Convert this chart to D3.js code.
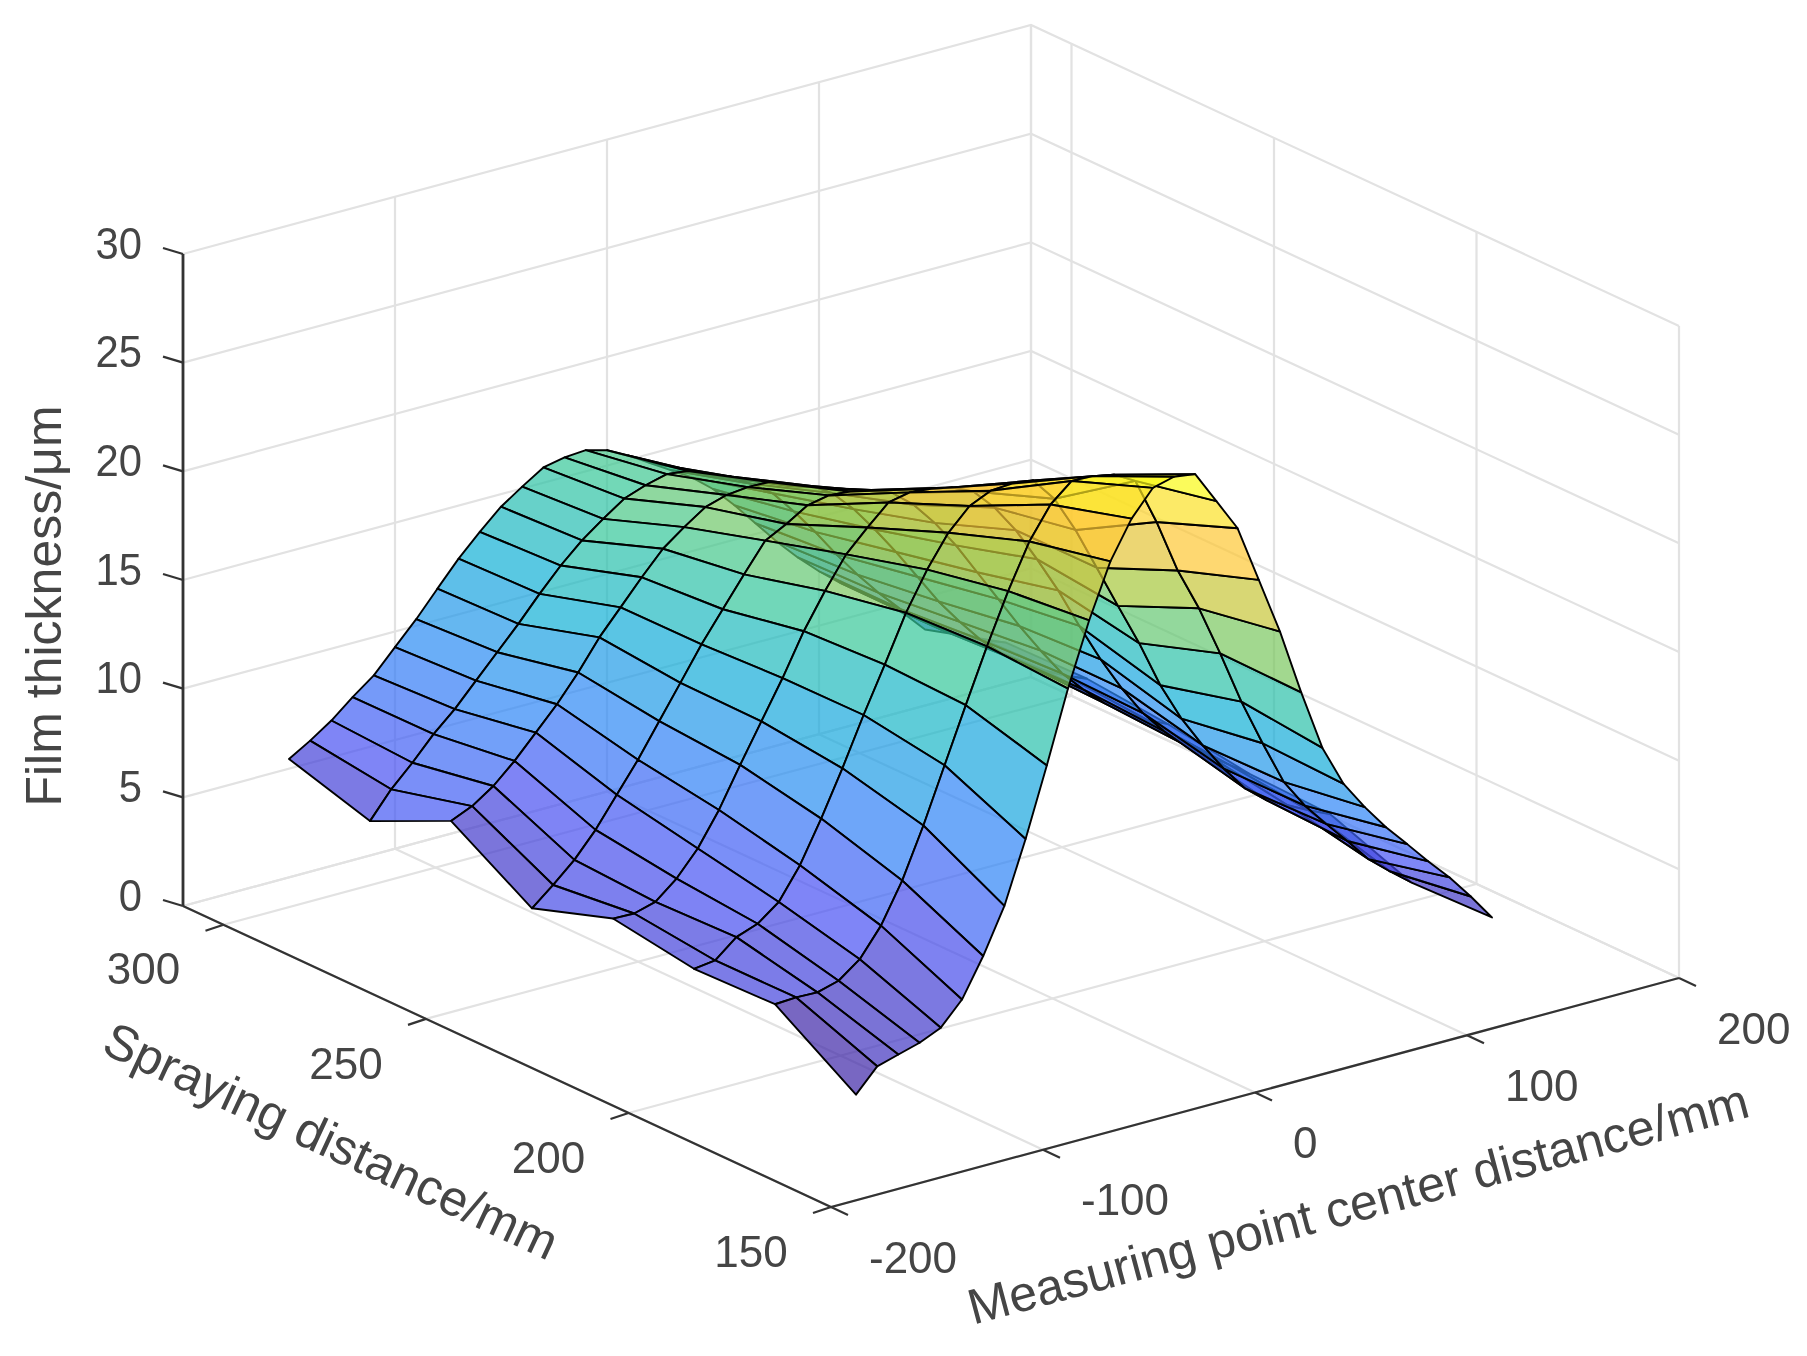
<!DOCTYPE html>
<html>
<head>
<meta charset="utf-8">
<script src="https://cdn.jsdelivr.net/npm/d3@7"></script>
<style>
  html, body { margin: 0; padding: 0; background: #fff; }
  svg { filter: blur(0.7px); }
  text { font-family: "Liberation Sans", Arial, sans-serif; fill: #454545; }
</style>
</head>
<body>
<div id="chart"></div>
<script>
// measuring point centre distance (mm), spraying distance (mm)
var xValues = [-150,-140,-130,-120,-110,-100,-90,-80,-70,-60,-50,-40,-30,-20,-10,0,10,20,30,40,50,60,70,80,90,100,110,120,130,140,150];
var yValues = [170,190,210,230,250,270,290,310];

// film thickness per spraying distance
var z170 = [2.12,3.16,3.44,3.72,4.15,5.18,6.92,8.96,11.78,14.9,18.17,21.05,23.5,25.2,26.35,26.6,26.46,24.95,23.44,20.8,18.16,15.1,12.28,10.36,9.03,7.84,6.8,5.74,4.74,3.6,2.37];
var z190 = [4.55,4.6,4.57,4.84,5.57,6.85,8.66,10.93,13.44,15.94,18.38,20.66,22.68,24.12,24.94,24.9,24.7,24.15,22,19.5,17.5,15.16,12.68,10.5,8.46,7.1,6.0,4.95,3.85,3.03,2.26];
var z210 = [4.45,4.57,5.38,5.73,6.47,7.9,9.78,11.83,14.02,16.07,18.19,19.92,21.35,22.32,22.76,22.82,22.7,21.6,19.9,17.9,15.88,13.9,11.7,9.9,8.41,7.07,5.9,5.1,4.6,4.1,3.67];
var z230 = [5.03,5.0,5.27,6.08,7.2,8.71,10.52,12.26,13.99,15.88,17.47,18.89,19.86,20.75,20.95,20.85,20.65,20.2,19.2,17.9,16.3,14.6,12.7,10.9,9.3,7.9,6.8,5.9,5.2,4.5,3.8];
var z250 = [3.77,4.58,5.47,6.59,7.94,9.29,10.8,12.3,13.81,15.16,16.5,17.79,18.29,18.89,19.08,19.0,18.8,18.4,17.6,16.5,15.2,13.7,12.2,10.7,9.3,8.0,7.0,6.1,5.4,4.8,4.34];
var z270 = [6.06,6.48,7.14,8.03,9.07,10.11,11.31,12.66,13.78,14.9,15.95,16.68,17.34,17.63,17.73,17.7,17.25,17.0,16.4,15.4,14.2,12.9,11.5,10.1,8.9,7.8,6.9,6.2,5.6,5.1,4.7];
var z290 = [4.32,5.52,6.48,7.53,8.42,9.47,10.51,11.55,12.67,13.71,14.6,15.33,16.0,16.35,16.6,16.48,16.03,15.7,15.1,14.4,13.3,12.1,10.8,9.6,8.5,7.5,6.7,6.0,5.4,5.0,4.63];
var z310 = [5.45,6.03,6.69,7.5,8.24,9.28,10.3,11.44,12.56,13.53,14.42,15.08,15.7,15.9,15.97,15.7,15.2,14.6,14.0,13.4,12.6,11.6,10.5,9.4,8.4,7.5,6.7,6.0,5.3,4.5,3.5];
var zRows = [z170, z190, z210, z230, z250, z270, z290, z310];

var xTicks = [-200,-100,0,100,200];
var yTicks = [150,200,250,300];
var zTicks = [0,5,10,15,20,25,30];
var xLimits = [-200,200], yLimits = [150,310], zLimits = [0,30];

var width = 1807, height = 1356;

// fixed view: each data axis moves the point along its own screen direction
var xToSx = d3.scaleLinear().domain(xLimits).range([0,848]);
var xToSy = d3.scaleLinear().domain(xLimits).range([0,-229]);
var yToSx = d3.scaleLinear().domain(yLimits).range([0,-648]);
var yToSy = d3.scaleLinear().domain(yLimits).range([0,-301]);
var zToSy = d3.scaleLinear().domain(zLimits).range([0,-652]);
var originX = 831, originY = 1207;

function project(x, y, z) {
  return [originX + xToSx(x) + yToSx(y), originY + xToSy(x) + yToSy(y) + zToSy(z)];
}

var parula = d3.scaleLinear()
  .domain(d3.range(8).map(function(i) { return i/7; }))
  .range(["rgb(62,38,168)","rgb(72,82,244)","rgb(46,135,247)","rgb(18,177,214)","rgb(55,200,151)","rgb(171,199,57)","rgb(254,195,56)","rgb(249,251,21)"]);
var colorT = d3.scaleLinear().domain(d3.extent(d3.merge(zRows))).range([0,1]);

var svg = d3.select("#chart").append("svg").attr("width", width).attr("height", height).style("display", "block");
var line = d3.line();

// grid on floor and the two back walls
var gridLines = [];
xTicks.forEach(function(x) {
  gridLines.push([project(x, yLimits[0], 0), project(x, yLimits[1], 0), project(x, yLimits[1], zLimits[1])]);
});
yTicks.concat([yLimits[1]]).forEach(function(y) {
  gridLines.push([project(xLimits[0], y, 0), project(xLimits[1], y, 0), project(xLimits[1], y, zLimits[1])]);
});
zTicks.forEach(function(z) {
  gridLines.push([project(xLimits[0], yLimits[1], z), project(xLimits[1], yLimits[1], z), project(xLimits[1], yLimits[0], z)]);
});
svg.append("g").attr("class", "grid").selectAll("path").data(gridLines).enter().append("path")
  .attr("d", line).attr("fill", "none").attr("stroke", "#e2e2e2").attr("stroke-width", 2.2);

// surface cells, far ones first. flat colour comes from the cell's low x, low y corner
var cells = [];
for (var j = 0; j < yValues.length - 1; j++) {
  for (var i = 0; i < xValues.length - 1; i++) {
    cells.push({i: i, j: j, depth: project(xValues[i], yValues[j], 0)[1]});
  }
}
cells.sort(function(a, b) { return a.depth - b.depth; });

svg.append("g").attr("class", "surface").selectAll("path").data(cells).enter().append("path")
  .attr("d", function(c) {
    var x0 = xValues[c.i], x1 = xValues[c.i+1], y0 = yValues[c.j], y1 = yValues[c.j+1];
    return line([
      project(x0, y0, zRows[c.j][c.i]),
      project(x1, y0, zRows[c.j][c.i+1]),
      project(x1, y1, zRows[c.j+1][c.i+1]),
      project(x0, y1, zRows[c.j+1][c.i])
    ]) + "Z";
  })
  .attr("fill", function(c) { return parula(colorT(zRows[c.j][c.i])); })
  .attr("fill-opacity", 0.7)
  .attr("stroke", "#000")
  .attr("stroke-width", 1.9)
  .attr("stroke-linejoin", "round");

// axis lines
var axes = svg.append("g").attr("class", "axes").attr("fill", "none").attr("stroke", "#333");
axes.append("path").attr("stroke-width", 2.8).attr("d", line([project(xLimits[0], yLimits[1], 0), project(xLimits[0], yLimits[1], zLimits[1])]));
axes.append("path").attr("stroke-width", 2.2).attr("d", line([project(xLimits[0], yLimits[1], 0), project(xLimits[0], yLimits[0], 0), project(xLimits[1], yLimits[0], 0)]));

var zTickG = svg.append("g").attr("class", "zticks");
zTicks.forEach(function(z) {
  var p = project(xLimits[0], yLimits[1], z);
  axes.append("path").attr("stroke-width", 2.2).attr("d", line([p, [p[0]-20, p[1]-6]]));
  zTickG.append("text").attr("transform", "translate(" + (p[0]-41) + "," + (p[1]-11) + ") scale(0.95,1.02)")
    .attr("text-anchor", "end").attr("dominant-baseline", "central")
    .style("font-size", "44px").text(z);
});
var yTickG = svg.append("g").attr("class", "yticks");
yTicks.forEach(function(y) {
  var p = project(xLimits[0], y, 0);
  axes.append("path").attr("stroke-width", 2.2).attr("d", line([p, [p[0]-18, p[1]+6]]));
  yTickG.append("text").attr("transform", "translate(" + (p[0]-80) + "," + (p[1]+44) + ") scale(1,1.02)")
    .attr("text-anchor", "middle").attr("dominant-baseline", "central")
    .style("font-size", "44px").text(y);
});
var xTickG = svg.append("g").attr("class", "xticks");
xTicks.forEach(function(x) {
  var p = project(x, yLimits[0], 0);
  axes.append("path").attr("stroke-width", 2.2).attr("d", line([p, [p[0]+17, p[1]+8]]));
  xTickG.append("text").attr("transform", "translate(" + (p[0]+38) + "," + (p[1]+50) + ") scale(1,1.02)")
    .attr("text-anchor", "start").attr("dominant-baseline", "central")
    .style("font-size", "44px").text(x);
});

// axis titles
svg.append("text").attr("transform", "translate(44,606) rotate(-90)").attr("text-anchor", "middle").attr("dominant-baseline", "central")
  .style("font-size", "50px").text("Film thickness/μm");
svg.append("text").attr("transform", "translate(331,1141) rotate(25)").attr("text-anchor", "middle").attr("dominant-baseline", "central")
  .style("font-size", "50px").text("Spraying distance/mm");
svg.append("text").attr("transform", "translate(1358,1204) rotate(-15)").attr("text-anchor", "middle").attr("dominant-baseline", "central")
  .style("font-size", "50px").text("Measuring point center distance/mm");
</script>
</body>
</html>
